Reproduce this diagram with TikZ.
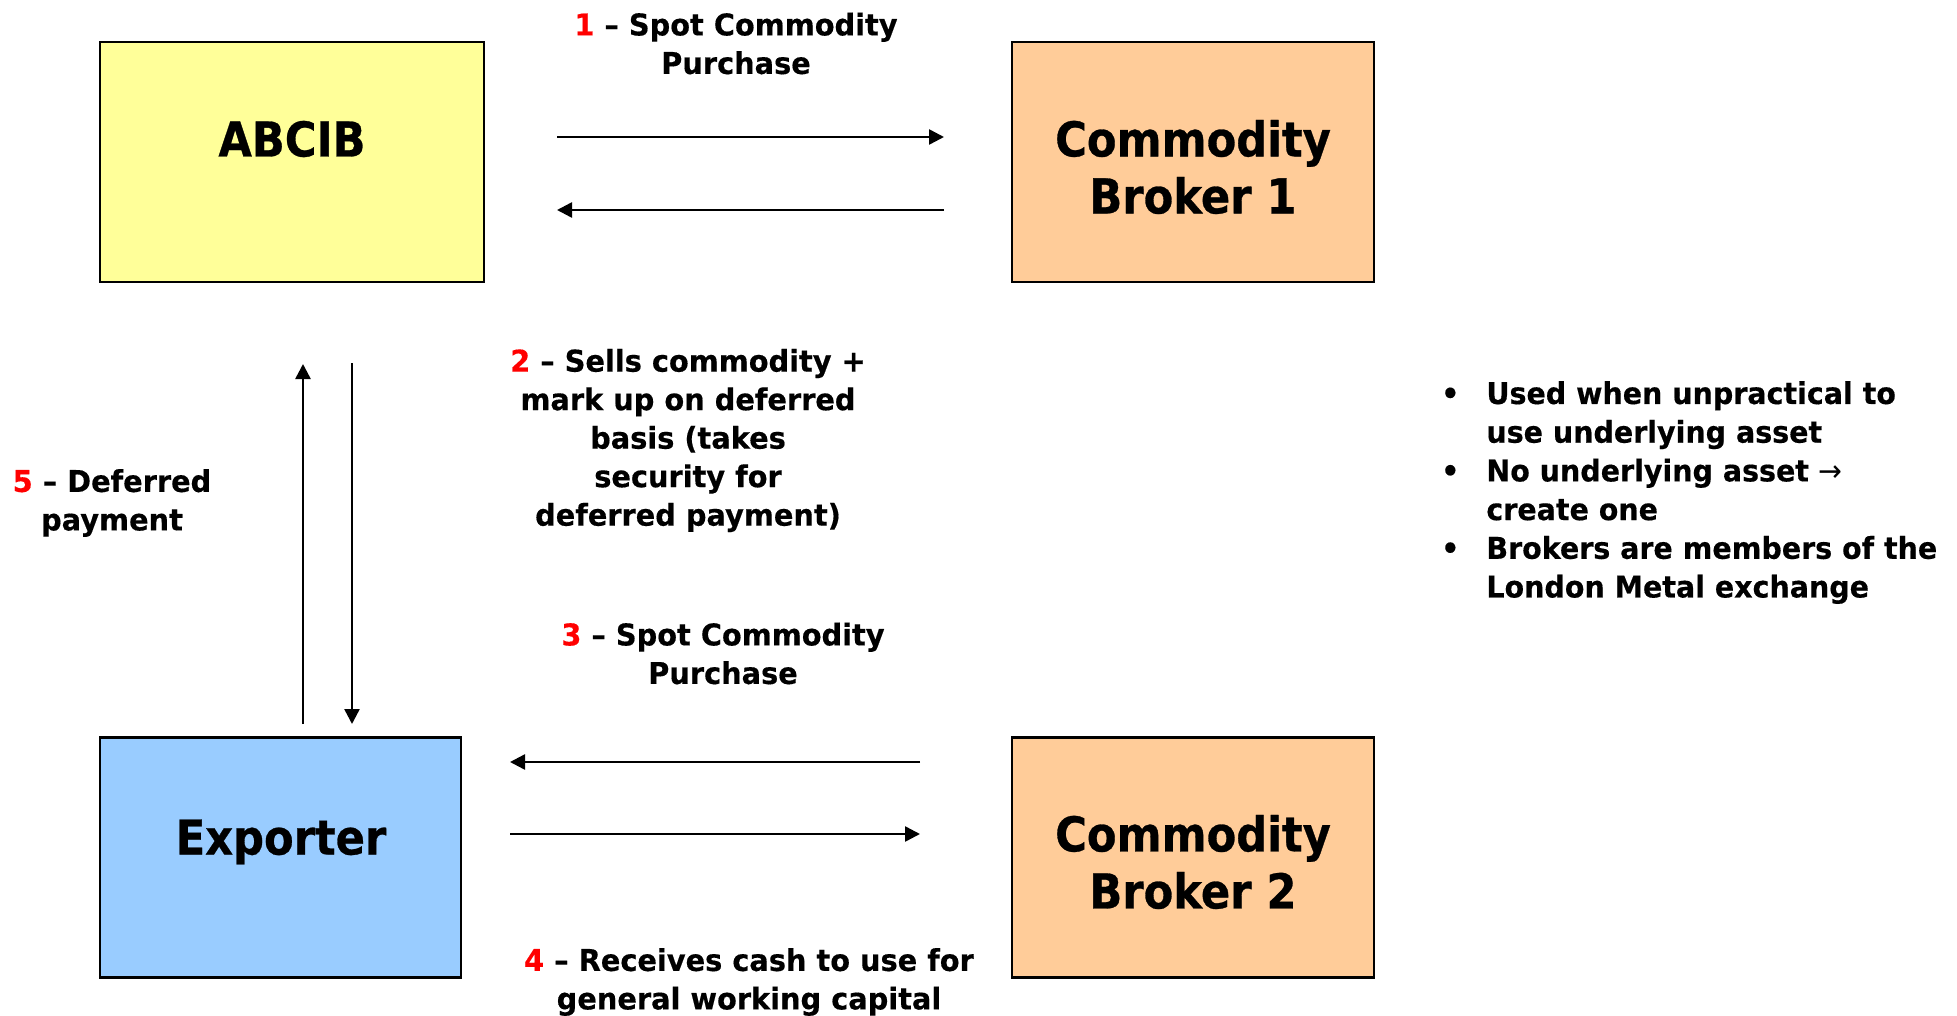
\documentclass[tikz,border=0pt]{standalone}
\usepackage{fontspec}
\setmainfont{DejaVu Sans}
\newfontfamily\titlefont{DejaVu Sans}[Ligatures=TeX, FakeStretch=0.9, BoldFeatures={FakeBold=0.6}]
\newfontfamily\labelfont{DejaVu Sans}[Ligatures=TeX, FakeStretch=0.96, BoldFeatures={FakeBold=0.4}]
\newfontfamily\notefont{DejaVu Sans}[Ligatures=TeX, FakeStretch=0.95, BoldFeatures={FakeBold=0.4}]
\usetikzlibrary{arrows.meta}
\definecolor{boxyellow}{HTML}{FFFF99}
\definecolor{boxorange}{HTML}{FFCC99}
\definecolor{boxblue}{HTML}{99CCFF}
\definecolor{stepred}{HTML}{FF0000}
\newcommand{\stepno}[1]{\textcolor{stepred}{#1}}
\begin{document}
\begin{tikzpicture}[x=1pt,y=-1pt,
  party/.style={draw=black, line width=2.5pt, inner sep=0pt},
  partytext/.style={font=\titlefont\bfseries\fontsize{48}{57}\selectfont, align=center, inner sep=0pt},
  steplabel/.style={font=\labelfont\bfseries\fontsize{30}{38.5}\selectfont, align=center, inner sep=0pt},
  notetext/.style={font=\notefont\bfseries\fontsize{30}{38.7}\selectfont, align=left, inner sep=0pt},
  flow/.style={line width=2.5pt, -{Triangle[length=15pt,width=15pt]}}
]
\useasboundingbox (0,0) rectangle (1957,1016);

% parties
\node[party, fill=boxyellow, minimum width=384pt, minimum height=240pt] (abcib) at (292,162) {};
\node[party, fill=boxorange, minimum width=362pt, minimum height=240pt] (broker1) at (1193,162) {};
\node[party, fill=boxblue, minimum width=361pt, minimum height=240pt] (exporter) at (280.5,857.5) {};
\node[party, fill=boxorange, minimum width=362pt, minimum height=240pt] (broker2) at (1193,857.5) {};

\node[partytext] (abcibtxt) at (292,139) {ABCIB};
\node[partytext] (broker1txt) at (1193,167) {Commodity\\Broker 1};
\node[partytext] (exportertxt) at (281,842) {Exporter};
\node[partytext] (broker2txt) at (1193,862) {Commodity\\Broker 2};

% arrow end points
\coordinate (a1s) at (557,137);  \coordinate (a1e) at (944,137);
\coordinate (a2s) at (944,210);  \coordinate (a2e) at (557,210);
\coordinate (a3s) at (920,762);  \coordinate (a3e) at (510,762);
\coordinate (a4s) at (510,834);  \coordinate (a4e) at (920,834);
\coordinate (a5s) at (303,724);  \coordinate (a5e) at (303,364);
\coordinate (a6s) at (352,363);  \coordinate (a6e) at (352,724);

\draw[flow] (a1s) -- (a1e);
\draw[flow] (a2s) -- (a2e);
\draw[flow] (a3s) -- (a3e);
\draw[flow] (a4s) -- (a4e);
\draw[flow] (a5s) -- (a5e);
\draw[flow] (a6s) -- (a6e);

% step labels
\node[steplabel] (l1) at (736,43.5) {\stepno{1} – Spot Commodity\\Purchase};
\node[steplabel] (l2) at (688,440.5) {\stepno{2} – Sells commodity +\\mark up on deferred\\basis (takes\\security for\\deferred payment)};
\node[steplabel] (l5) at (112,503) {\stepno{5} – Deferred\\payment};
\node[steplabel] (l3) at (723,653.5) {\stepno{3} – Spot Commodity\\Purchase};
\node[steplabel] (l4) at (749,982) {\stepno{4} – Receives cash to use for\\general working capital};

% notes
\node[notetext, anchor=west] (notes) at (1441,493) {%
  \begin{tabular}{@{}l@{\hspace{27pt}}l@{}}
  • & Used when unpractical to\\
    & use underlying asset\\
  • & No underlying asset {\mdseries →}\\
    & create one\\
  • & Brokers are members of the\\
    & London Metal exchange
  \end{tabular}};
\end{tikzpicture}
\end{document}
